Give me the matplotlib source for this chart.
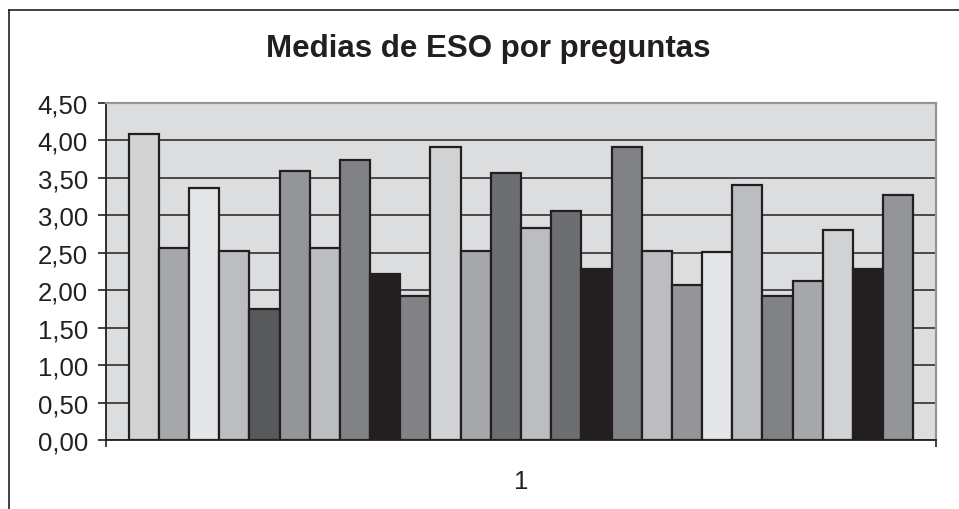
import matplotlib
matplotlib.use("Agg")
import matplotlib.pyplot as plt
from matplotlib.lines import Line2D
import numpy as np

plt.rcParams['font.family'] = ['Liberation Sans', 'DejaVu Sans']

TITLE = "Medias de ESO por preguntas"
CATEGORY = "1"

# one value per question (single category "1")
medias = [4.08, 2.56, 3.36, 2.53, 1.75, 3.59, 2.56, 3.74, 2.22, 1.92,
          3.91, 2.53, 3.56, 2.83, 3.06, 2.28, 3.91, 2.53, 2.07, 2.51,
          3.41, 1.92, 2.12, 2.80, 2.28, 3.27]
colores = ['#d1d2d4', '#a7a8ab', '#e5e6e8', '#bcbdc0', '#58595b', '#939598',
           '#bcbdc0', '#808285', '#231f20', '#808285', '#d1d2d4', '#a7a8ab',
           '#6d6e71', '#bcbdc0', '#6d6e71', '#231f20', '#808285', '#bcbdc0',
           '#939598', '#e5e6e8', '#bcbdc0', '#808285', '#a7a8ab', '#d1d2d4',
           '#231f20', '#939598']
y_ticks = [0.0, 0.5, 1.0, 1.5, 2.0, 2.5, 3.0, 3.5, 4.0, 4.5]
y_labels = ["0,00", "0,50", "1,00", "1,50", "2,00", "2,50", "3,00", "3,50", "4,00", "4,50"]

DARK = '#231f20'
W, H = 959, 510

fig = plt.figure(figsize=(W / 100, H / 100), dpi=100)
ax = fig.add_axes([106 / W, 1 - 441 / H, (936 - 106) / W, (441 - 104) / H])

n = len(medias)
pos = np.arange(n)
ax.bar(pos, medias, width=1.0, align='edge', color=colores,
       edgecolor=DARK, linewidth=1.6, zorder=2)

ax.set_facecolor('#dcdddf')
ax.set_xlim(-0.75, n + 0.75)
ax.set_ylim(0, 4.5)

ax.set_yticks(y_ticks)
ax.set_yticklabels(y_labels, fontsize=18.5, color=DARK)
ax.tick_params(axis='y', direction='out', length=6, width=1.2, color=DARK, pad=7)

ax.set_xticks([n / 2])
ax.set_xticklabels([CATEGORY], fontsize=18.5, color=DARK)
ax.set_xticks([-0.75, n + 0.75], minor=True)
ax.tick_params(axis='x', which='major', length=0, pad=21)
ax.tick_params(axis='x', which='minor', direction='out', length=5, width=1.2, color=DARK)

ax.set_axisbelow(True)
ax.yaxis.grid(True, color=DARK, linewidth=1.1)

ax.spines['left'].set_color(DARK)
ax.spines['left'].set_linewidth(1.3)
ax.spines['bottom'].set_color(DARK)
ax.spines['bottom'].set_linewidth(1.3)
ax.spines['top'].set_color('#939598')
ax.spines['top'].set_linewidth(1.6)
ax.spines['right'].set_color('#939598')
ax.spines['right'].set_linewidth(1.6)

fig.text(488 / W, 1 - 57 / H, TITLE, fontsize=22.5, fontweight='bold',
         color=DARK, ha='center', va='baseline')

# outer chart frame (top and left edges visible)
fig.add_artist(Line2D([9 / W, 1.0], [1 - 10.5 / H, 1 - 10.5 / H],
                      transform=fig.transFigure, color=DARK, linewidth=1.2))
fig.add_artist(Line2D([9 / W, 9 / W], [0.0, 1 - 10.5 / H],
                      transform=fig.transFigure, color=DARK, linewidth=1.2))

fig.savefig("out.png", dpi=100)
